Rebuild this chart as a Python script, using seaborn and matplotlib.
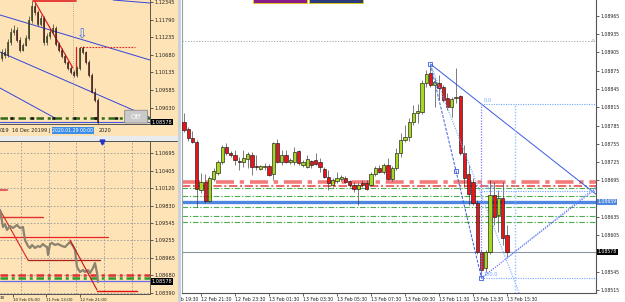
import numpy as np
import pandas as pd
import matplotlib
matplotlib.use("Agg")
import matplotlib.pyplot as plt
from matplotlib.patches import Rectangle, FancyBboxPatch
import seaborn as sns

sns.set_theme(style="white")
plt.rcParams['font.family'] = ['DejaVu Sans']

# ---------------- main chart: EURUSD M15 candles (bar index 0 = 12 Feb 19:30) ----------------
main_idx = list(range(3, 81))
main_open = [1.08765,1.08791,1.08779,1.08765,1.08758,1.08679,1.08692,1.08661,1.08697,1.08707,
             1.08725,1.08750,1.08740,1.08737,1.08727,1.08725,1.08730,1.08737,1.08718,1.08714,
             1.08717,1.08719,1.08706,1.08756,1.08725,1.08737,1.08725,1.08725,1.08743,1.08720,
             1.08717,1.08727,1.08729,1.08725,1.08714,1.08701,1.08688,1.08694,1.08697,1.08699,
             1.08694,1.08688,1.08681,1.08691,1.08691,1.08688,1.08706,1.08715,1.08709,1.08720,
             1.08697,1.08715,1.08740,1.08761,1.08766,1.08791,1.08806,1.08807,1.08855,1.08871,
             1.08852,1.08855,1.08848,1.08830,1.08815,1.08830,1.08834,1.08740,1.08706,1.08692,
             1.08658,1.08578,1.08551,1.08578,1.08671,1.08638,1.08666,1.08606]
main_high = [1.08794,1.08806,1.08783,1.08776,1.08761,1.08707,1.08706,1.08702,1.08715,1.08729,
             1.08753,1.08756,1.08743,1.08745,1.08733,1.08745,1.08742,1.08742,1.08737,1.08720,
             1.08724,1.08722,1.08758,1.08763,1.08745,1.08745,1.08732,1.08750,1.08745,1.08729,
             1.08737,1.08729,1.08740,1.08732,1.08717,1.08712,1.08699,1.08709,1.08704,1.08702,
             1.08696,1.08692,1.08691,1.08696,1.08696,1.08709,1.08719,1.08720,1.08724,1.08732,
             1.08719,1.08748,1.08773,1.08786,1.08797,1.08819,1.08820,1.08860,1.08876,1.08886,
             1.08863,1.08868,1.08852,1.08838,1.08832,1.08880,1.08835,1.08753,1.08720,1.08699,
             1.08663,1.08581,1.08581,1.08696,1.08692,1.08679,1.08692,1.08622]
main_low = [1.08761,1.08775,1.08760,1.08756,1.08651,1.08674,1.08658,1.08660,1.08694,1.08704,
            1.08722,1.08737,1.08733,1.08720,1.08712,1.08717,1.08715,1.08704,1.08712,1.08712,
            1.08712,1.08702,1.08696,1.08724,1.08720,1.08724,1.08722,1.08720,1.08720,1.08717,
            1.08715,1.08715,1.08720,1.08709,1.08699,1.08679,1.08684,1.08691,1.08694,1.08691,
            1.08684,1.08676,1.08655,1.08684,1.08679,1.08686,1.08702,1.08707,1.08706,1.08696,
            1.08694,1.08712,1.08733,1.08758,1.08760,1.08786,1.08789,1.08804,1.08848,1.08848,
            1.08815,1.08827,1.08824,1.08811,1.08799,1.08822,1.08737,1.08684,1.08655,1.08655,
            1.08574,1.08535,1.08545,1.08574,1.08622,1.08611,1.08589,1.08570]
main_close = [1.08789,1.08778,1.08765,1.08758,1.08681,1.08692,1.08661,1.08699,1.08711,1.08725,
              1.08750,1.08740,1.08737,1.08729,1.08726,1.08732,1.08738,1.08717,1.08717,1.08719,
              1.08718,1.08704,1.08756,1.08725,1.08737,1.08725,1.08729,1.08742,1.08724,1.08725,
              1.08730,1.08720,1.08722,1.08717,1.08701,1.08691,1.08696,1.08699,1.08701,1.08692,
              1.08688,1.08681,1.08688,1.08688,1.08681,1.08706,1.08715,1.08709,1.08720,1.08697,
              1.08715,1.08740,1.08761,1.08766,1.08791,1.08806,1.08809,1.08855,1.08870,1.08852,
              1.08856,1.08847,1.08827,1.08815,1.08829,1.08832,1.08740,1.08699,1.08673,1.08658,
              1.08578,1.08548,1.08578,1.08671,1.08635,1.08666,1.08601,1.08578]
main_tick_idx = [0, 8, 16, 24, 32, 40, 48, 56, 64, 72, 80]
main_tick_lbl = ["12 Feb 19:30", "12 Feb 21:30", "12 Feb 23:30", "13 Feb 01:30", "13 Feb 03:30",
                 "13 Feb 05:30", "13 Feb 07:30", "13 Feb 09:30", "13 Feb 11:30", "13 Feb 13:30",
                 "13 Feb 15:30"]
main_price_ticks = [1.08515, 1.08545, 1.08575, 1.08605, 1.08635, 1.08665, 1.08695, 1.08725,
                    1.08755, 1.08785, 1.08815, 1.08845, 1.08875, 1.08905, 1.08935, 1.08965]
red_levels = [1.08693, 1.08686]
green_levels = [1.08683, 1.08670, 1.08651, 1.08637, 1.08627]
blue_level = 1.08660
bid_level = 1.08578
dotted_level = 1.08924
fib_levels = [1.08820, 1.08678, 1.08535]
fib_names = ["0.0", "50.0", "100.0"]
peak = (62, 1.08886)
trough = (74, 1.08535)

# ---------------- top-left: daily candles ----------------
tl_open = [1.10589,1.10777,1.10683,1.11091,1.11404,1.11467,1.11154,1.10840,1.10997,1.11216,
           1.11781,1.12220,1.12032,1.11655,1.11844,1.11091,1.11279,1.11404,1.11530,1.11028,
           1.10840,1.10652,1.10464,1.10276,1.10150,1.10056,1.10276,1.10903,1.10777,1.10464,
           1.10056,1.09523,1.09272]
tl_close = [1.10777,1.10683,1.11091,1.11404,1.11467,1.11154,1.10840,1.10997,1.11216,1.11781,
            1.12220,1.12032,1.11655,1.11844,1.11091,1.11279,1.11404,1.11530,1.11028,1.10840,
            1.10652,1.10464,1.10276,1.10150,1.10056,1.10276,1.10903,1.10777,1.10464,1.10056,
            1.09523,1.09272,1.08578]
tl_high = [1.10880,1.10900,1.11200,1.11530,1.11620,1.11560,1.11250,1.11060,1.11300,1.11900,
           1.12377,1.12300,1.12100,1.11950,1.11900,1.11380,1.11500,1.11650,1.11600,1.11100,
           1.10900,1.10700,1.10500,1.10330,1.10200,1.10350,1.10934,1.10950,1.10800,1.10520,
           1.10120,1.09650,1.09350]
tl_low = [1.10500,1.10600,1.10620,1.11000,1.11300,1.11100,1.10780,1.10800,1.10950,1.11150,
          1.11700,1.11950,1.11600,1.11600,1.11000,1.11000,1.11200,1.11350,1.10980,1.10780,
          1.10600,1.10400,1.10200,1.10100,1.09990,1.10000,1.10200,1.10700,1.10400,1.10000,
          1.09480,1.09200,1.08530]
tl_price_ticks = [1.09030, 1.09585, 1.10135, 1.10680, 1.11235, 1.11790, 1.12345]

# ---------------- bottom-left: H1 line chart (hours from 10 Feb 00:00) ----------------
bl_hours = [-7.5,-4.6,-2.7,-0.8,2.1,5,8.8,11.7,14.6,16.5,19.4,21.3,23.3,26.2,29,31,33.8,35.8,37.7,38.7,
            40.6,42.5,45.4,48.3,52.1,55,57.9,59.8,62.7,64.6,66.5,69.4,72.3,74.2,77.1,79,81.9,83.8,85.8,86.7]
bl_close = [1.09757,1.09477,1.09526,1.09428,1.09493,1.09461,1.09510,1.09461,1.09477,1.09263,
            1.09164,1.09131,1.09181,1.09131,1.09164,1.09148,1.09197,1.09164,1.09148,1.09016,
            1.09197,1.09214,1.09181,1.09197,1.09164,1.09148,1.09197,1.09230,1.09164,1.09098,
            1.08819,1.08736,1.08769,1.08736,1.08769,1.08720,1.08802,1.08884,1.08720,1.08572]
bl_price_ticks = [1.08390, 1.08680, 1.08965, 1.09255, 1.09545, 1.09830, 1.10120, 1.10405, 1.10695]
bl_tick_h = [5, 37, 69]
bl_tick_lbl = ["10 Feb 05:00", "11 Feb 13:00", "12 Feb 21:00"]

PEACH = "#fde3b5"
W, H = 625, 302


def fx(px):
    return px / W


def fy(py):
    return 1 - py / H


def candles(ax, x, o, h, l, c, w, up, down, edge, wick, lw=0.4):
    x = np.asarray(x, float)
    o = np.asarray(o); c = np.asarray(c); h = np.asarray(h); l = np.asarray(l)
    ax.vlines(x, l, h, color=wick, lw=lw, zorder=3)
    bottom = np.minimum(o, c)
    height = np.maximum(np.abs(c - o), 0.0000001)
    colors = np.where(c >= o, up, down)
    ax.bar(x, height, bottom=bottom, width=w, color=colors, edgecolor=edge, linewidth=lw, zorder=4)


fig = plt.figure(figsize=(6.25, 3.02), dpi=100)
fig.patch.set_facecolor("white")

# ====== main axes ======
axm = fig.add_axes([fx(182), fy(293), fx(596 - 182), 293 / H], zorder=0)
axm.set_facecolor("white")
candles(axm, main_idx, main_open, main_high, main_low, main_close, 0.75,
        "#a8d81e", "#e8141a", "#1a1a1a", "#333333", lw=0.45)
axm.set_xlim(3.53, 100.95)
axm.set_ylim(1.085105, 1.08991)

dashdot = (0, (5, 1.6, 1.2, 1.6))
axm.axhline(dotted_level, color="#a0a8b0", lw=0.8, ls=(0, (1, 1.5)), zorder=1)
axm.axhline(red_levels[0], color="#f47a7a", lw=2.6, ls=dashdot, zorder=2)
axm.axhline(red_levels[1], color="#e85050", lw=1.2, ls=dashdot, zorder=2)
for g in green_levels:
    axm.axhline(g, color="#4cae4c", lw=0.8, ls=dashdot, zorder=2)
axm.axhline(blue_level, color="#4f86e0", lw=2.4, zorder=2)
axm.axhline(bid_level, color="#8a96a2", lw=0.8, zorder=2)

# trend / fibo objects
axm.plot([peak[0], 101.4], [peak[1], 1.08670], color="#3a5ae0", lw=0.7, zorder=5)
axm.plot([peak[0], 68, trough[0]], [peak[1], 1.08711, trough[1]], color="#3a5ae0", lw=0.7,
         ls=(0, (3, 1.5)), marker="s", ms=2.2, mfc="none", mec="#3a5ae0", mew=0.6, zorder=5)
axm.plot([peak[0], 83.5], [peak[1], 1.08499], color="#6fa8ff", lw=0.8, ls=(0, (1, 1.2)), zorder=5)
axm.plot([trough[0], 101.2], [trough[1], 1.08683], color="#5a5af5", lw=0.8, ls=(0, (1, 1.2)), zorder=5)
axm.plot([80, 101.2], [1.08568, 1.08686], color="#6fa8ff", lw=0.8, ls=(0, (1, 1.2)), zorder=5)
axm.plot([trough[0], trough[0]], [trough[1], fib_levels[0]], color="#7b7bff", lw=0.9, ls=(0, (1, 1.2)), zorder=5)
axm.plot([82, 82], [1.08511, fib_levels[0]], color="#8ec5ff", lw=1.0, ls=(0, (1, 1.2)), zorder=5)
for lv, nm in zip(fib_levels, fib_names):
    axm.plot([trough[0], 101], [lv, lv], color="#6fa8ff", lw=0.8, ls=(0, (1, 1.2)), zorder=5)
    axm.text(trough[0] + 0.4, lv + 0.00002, nm, color="#6fa8ff", fontsize=3.6, va="bottom", ha="left", zorder=6)
axm.text(100.6, dotted_level, "0", color="#909090", fontsize=3, va="center", ha="right")

# axes styling
axm.spines["top"].set_visible(False)
axm.spines["left"].set_color("#9aa0a8")
axm.spines["right"].set_color("#555555")
axm.spines["bottom"].set_color("#555555")
for s in ["left", "right", "bottom"]:
    axm.spines[s].set_linewidth(0.8)
axm.yaxis.tick_right()
axm.set_yticks(main_price_ticks)
covered = [blue_level, bid_level]
axm.set_yticklabels(["" if min(abs(p - q) for q in covered) < 0.00008 else f"{p:.5f}"
                     for p in main_price_ticks])
axm.tick_params(axis="y", labelsize=3.3, length=2, pad=1.5, width=0.5, colors="#222222", right=True)
axm.set_xticks(main_tick_idx[1:])
axm.set_xticklabels(main_tick_lbl[1:])
axm.tick_params(axis="x", labelsize=3.3, length=2, pad=1.2, width=0.5, colors="#222222", bottom=True)
for lbl in axm.get_xticklabels():
    lbl.set_horizontalalignment("left")
axm.text(main_tick_idx[0] + 0.3, -0.012, main_tick_lbl[0], transform=axm.get_xaxis_transform(),
         fontsize=3.3, color="#222222", ha="left", va="top", clip_on=False)
axm.text(1.004, blue_level, "1.08659", transform=axm.get_yaxis_transform(), fontsize=3.3, color="white",
         va="center", ha="left", zorder=10, clip_on=False,
         bbox=dict(boxstyle="square,pad=0.15", fc="#4f86e0", ec="none"))
axm.text(1.004, bid_level, "1.08578", transform=axm.get_yaxis_transform(), fontsize=3.3, color="white",
         va="center", ha="left", zorder=10, clip_on=False,
         bbox=dict(boxstyle="square,pad=0.15", fc="black", ec="none"))
axm.grid(False)

# ====== left window backgrounds (figure patches) ======
fig.patches.append(Rectangle((0, fy(136)), fx(178), 136 / H, transform=fig.transFigure,
                             fc=PEACH, ec="none", zorder=1))
fig.patches.append(Rectangle((0, 0), fx(178), fy(141), transform=fig.transFigure,
                             fc=PEACH, ec="none", zorder=1))
fig.patches.append(Rectangle((0, fy(141)), fx(178), 5 / H, transform=fig.transFigure,
                             fc="#e9ecef", ec="none", zorder=1))
fig.patches.append(Rectangle((fx(178), 0), fx(3), 1, transform=fig.transFigure,
                             fc="#c9d3de", ec="none", zorder=1))
fig.patches.append(Rectangle((0, fy(141.5)), fx(178), 0.9 / H, transform=fig.transFigure,
                             fc="#555555", ec="none", zorder=1))
# top indicator boxes
fig.patches.append(Rectangle((fx(253), fy(3)), fx(54), 4 / H, transform=fig.transFigure,
                             fc="#8b1a8b", ec="#e6d200", lw=0.6, zorder=3))
fig.patches.append(Rectangle((fx(309), fy(3)), fx(54), 4 / H, transform=fig.transFigure,
                             fc="#2c3a7a", ec="#e6d200", lw=0.6, zorder=3))

# ====== top-left axes ======
axtl = fig.add_axes([0, fy(124), fx(150), 124 / H], zorder=2)
axtl.set_facecolor(PEACH)
k = np.arange(len(tl_open))
candles(axtl, k, tl_open, tl_high, tl_low, tl_close, 0.6, "#8fcf2a", "#c81818", "#222222", "#222222", lw=0.45)
axtl.set_xlim(-0.5, 49.5)
axtl.set_ylim(1.08519, 1.12408)
axtl.plot([-0.5, 49.5], [1.11938, 1.10526], color="#3344dd", lw=0.7)
axtl.plot([-0.5, 49.5], [1.10777, 1.08726], color="#3344dd", lw=0.7)
axtl.plot([-0.5, 17.8], [1.09648, 1.08707], color="#3344dd", lw=0.7)
axtl.plot([37.2, 49.5], [1.12408, 1.12314], color="#3344dd", lw=0.7)
axtl.axhline(1.08578, color="#4455dd", lw=0.8)
axtl.axhline(1.08708, color="#2f6a1a", lw=1.8, ls=(0, (3, 1.5, 1.2, 1.5)))
axtl.axhline(1.08708, color="#111111", lw=1.8, ls=(4.5, (1.2, 7.2)))
axtl.plot([10.5, 24.8], [1.12377, 1.12377], color="#e02020", lw=1.2)
axtl.plot([11.2, 23.8], [1.12345, 1.10276], color="#e02020", lw=0.9)
axtl.plot([24.8, 24.8], [1.10934, 1.10119], color="#e02020", lw=0.9)
axtl.plot([26.2, 44.5], [1.10934, 1.10934], color="#e02020", lw=0.8, ls=(0, (1.5, 1.2)))
axtl.axvline(23.8, color="#a0a0a0", lw=0.6, ls=(0, (1, 1.5)))
axtl.text(26.8, 1.11310, "\u21e9", color="#3a6ee8", fontsize=9, ha="center", va="center")
axtl.add_patch(FancyBboxPatch((0.835, 0.012), 0.145, 0.095, boxstyle="round,pad=0.004",
                              transform=axtl.transAxes, fc="#c9c9c9", ec="#8a8a8a", lw=0.6, zorder=6))
axtl.text(0.907, 0.06, "Off", transform=axtl.transAxes, color="white", fontsize=5, ha="center",
          va="center", zorder=7)
for s in ["top", "left"]:
    axtl.spines[s].set_visible(False)
for s in ["right", "bottom"]:
    axtl.spines[s].set_color("#555555")
    axtl.spines[s].set_linewidth(0.7)
axtl.yaxis.tick_right()
axtl.set_yticks(tl_price_ticks)
axtl.set_yticklabels([f"{p:.5f}" for p in tl_price_ticks])
axtl.tick_params(axis="y", labelsize=3.6, length=2, pad=1.5, width=0.5, colors="#222222", right=True)
axtl.set_xticks([])
axtl.text(1.01, 1.08578, "1.08578", transform=axtl.get_yaxis_transform(), fontsize=3.6, color="white",
          va="center", ha="left", zorder=10, clip_on=False,
          bbox=dict(boxstyle="square,pad=0.15", fc="black", ec="none"))
xt = axtl.get_xaxis_transform()
for xv, s in [(-0.5, "019"), (3.5, "16 Dec 2019"), (14.3, "9 J"), (32.4, "2020")]:
    axtl.text(xv, -0.05, s, transform=xt, fontsize=3.6, color="#222222", ha="left", va="center", clip_on=False)
axtl.text(17.0, -0.05, "2020.01.29 00:00", transform=xt, fontsize=3.3, color="white", ha="left",
          va="center", clip_on=False, bbox=dict(boxstyle="square,pad=0.2", fc="#3d8ee8", ec="none"))
axtl.grid(False)

# ====== bottom-left axes ======
axbl = fig.add_axes([0, fy(294), fx(150), 152 / H], zorder=2)
axbl.set_facecolor(PEACH)
dfbl = pd.DataFrame({"hour": bl_hours, "close": bl_close})
sns.lineplot(data=dfbl, x="hour", y="close", ax=axbl, color="#8c8270", lw=1.6, zorder=4)
axbl.set_xlim(-7.5, 136.7)
axbl.set_ylim(1.08374, 1.10876)
for gx in [12.7, 39.6, 65.6, 92.5, 119.4]:
    axbl.axvline(gx, color="#9a9a9a", lw=0.6, ls=(0, (2, 2)), zorder=1)
for gy in bl_price_ticks:
    axbl.axhline(gy, color="#9a9a9a", lw=0.6, ls=(0, (2, 2)), zorder=1)
axbl.plot([-7.5, -0.8], [1.10086, 1.10086], color="#e06060", lw=1.5, zorder=3)
axbl.plot([-7.5, 33.8], [1.09642, 1.09642], color="#e03030", lw=1.0, zorder=3)
axbl.plot([-7.5, 19.4], [1.09757, 1.08934], color="#dd2222", lw=0.8, zorder=3)
axbl.plot([19.4, 88.7], [1.08934, 1.08934], color="#b01c1c", lw=0.9, zorder=3)
axbl.plot([-7.5, 96.3], [1.09312, 1.09312], color="#ee2222", lw=0.9, zorder=3)
axbl.plot([59.8, 85.8], [1.09263, 1.08440], color="#cc1111", lw=0.8, zorder=5)
axbl.plot([85.8, 124.3], [1.08424, 1.08424], color="#e01010", lw=1.0, zorder=3)
axbl.axhline(1.08687, color="#e23030", lw=1.8, ls=(0, (3, 1.5, 1.2, 1.5)), zorder=3)
axbl.axhline(1.08645, color="#2e9a2e", lw=1.8, ls=(0, (3, 1.5, 1.2, 1.5)), zorder=3)
axbl.axhline(1.08590, color="#6a6af0", lw=0.9, zorder=3)
axbl.plot([90.6], [1.10876], marker="v", ms=3.5, color="#2233cc", clip_on=False, zorder=6)
for s in ["top", "left"]:
    axbl.spines[s].set_visible(False)
for s in ["right", "bottom"]:
    axbl.spines[s].set_color("#555555")
    axbl.spines[s].set_linewidth(0.7)
axbl.yaxis.tick_right()
axbl.set_yticks(bl_price_ticks)
axbl.set_yticklabels([f"{p:.5f}" for p in bl_price_ticks])
axbl.tick_params(axis="y", labelsize=3.6, length=2, pad=1.5, width=0.5, colors="#222222", right=True)
axbl.set_xticks(bl_tick_h)
axbl.set_xticklabels(bl_tick_lbl)
axbl.tick_params(axis="x", labelsize=3.0, length=2, pad=1.2, width=0.5, colors="#222222", bottom=True)
for lbl in axbl.get_xticklabels():
    lbl.set_horizontalalignment("left")
axbl.text(-7.3, -0.012, "30", transform=axbl.get_xaxis_transform(), fontsize=3.0, color="#222222",
          ha="left", va="top", clip_on=False)
axbl.text(1.01, 1.08578, "1.08578", transform=axbl.get_yaxis_transform(), fontsize=3.6, color="white",
          va="center", ha="left", zorder=10, clip_on=False,
          bbox=dict(boxstyle="square,pad=0.15", fc="black", ec="none"))
axbl.set_xlabel("")
axbl.set_ylabel("")
axbl.grid(False)

fig.savefig("out.png", dpi=100, facecolor=fig.get_facecolor())
